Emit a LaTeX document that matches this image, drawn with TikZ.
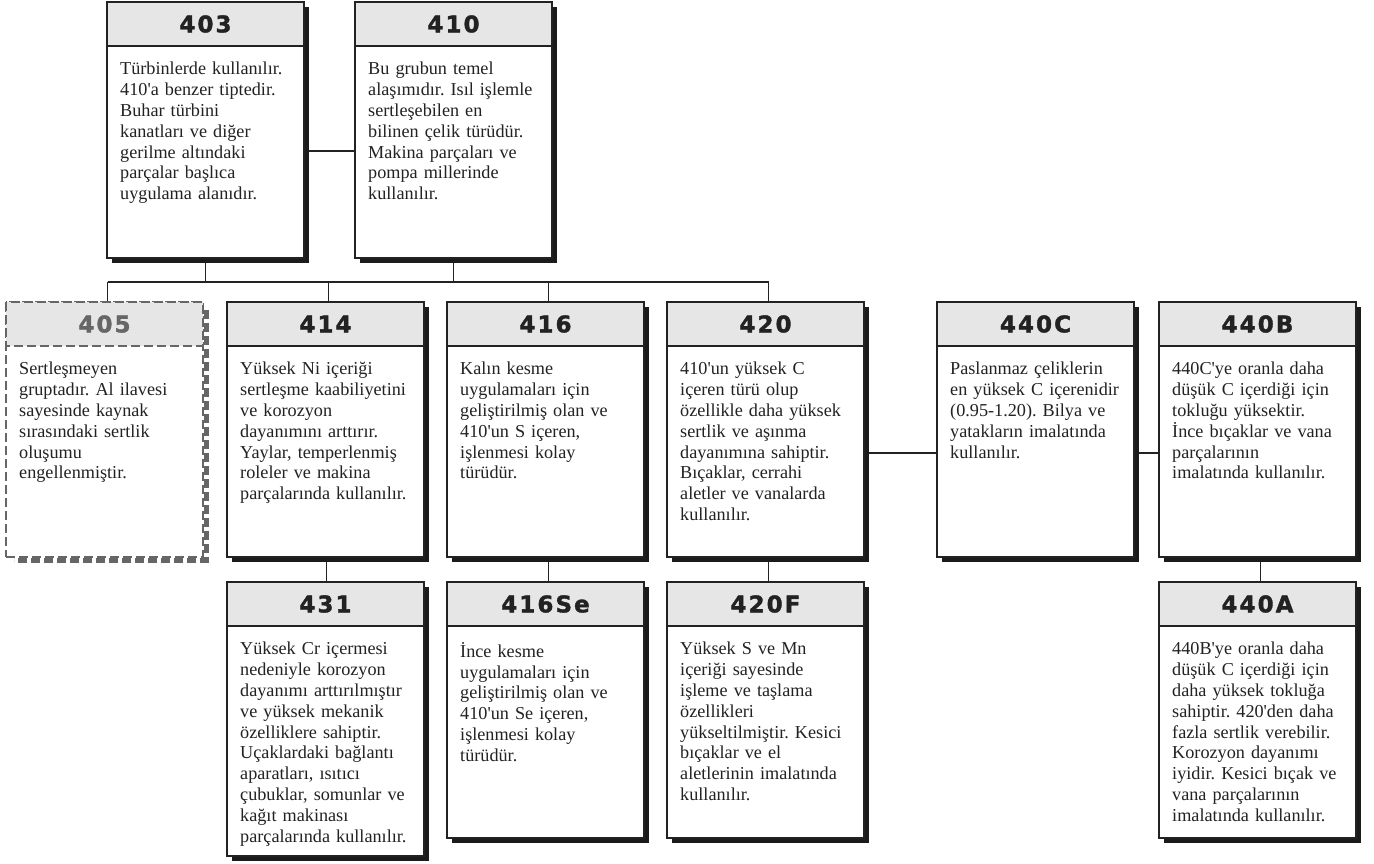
\documentclass[tikz,border=0pt]{standalone}
\usepackage{fontspec}
\setmainfont{Liberation Serif}
\newfontfamily\hdrfont[LetterSpace=9,BoldFeatures={FakeBold=1.6}]{DejaVu Sans}
\usetikzlibrary{calc}
\pgfdeclarelayer{bg}
\pgfsetlayers{bg,main}
\definecolor{ink}{HTML}{222222}
\definecolor{hdrgray}{HTML}{E6E6E6}
\definecolor{dimgray}{HTML}{666666}
\definecolor{shadowc}{HTML}{1C1A1A}
\newcommand\ap{\textquotesingle}
\frenchspacing
\tikzset{
  card/.style={draw=ink, fill=white, line width=1.8pt, inner sep=0pt, outer sep=0pt,
    minimum width=197pt, anchor=north west},
  hdrline/.style={draw=ink, line width=1.8pt, fill=hdrgray},
  hdr/.style={font=\hdrfont\bfseries\fontsize{23}{26}\selectfont, text=ink, inner sep=0pt},
  body/.style={font=\frenchspacing\fontsize{18.2}{20.8}\selectfont, text=ink, align=left,
    text width=180pt, inner sep=0pt, anchor=north west},
  conn/.style={draw=ink, line width=1.2pt},
}
% #1 name, #2 x, #3 y, #4 height, #5 title, #6 body
\newcommand\steelcard[6]{%
  \fill[shadowc] (#2+5,#3+5) rectangle (#2+202,#3+#4+5);
  \node[card, minimum height=#4pt] (#1) at (#2,#3) {};
  \draw[hdrline] (#1.north west) rectangle ([yshift=-44pt]#1.north east);
  \node[hdr] (#1-t) at ([yshift=-22pt]#1.north) {#5};
  \node[body] (#1-b) at ([xshift=13pt,yshift=-60pt]#1.north west) {#6};
}
\begin{document}
\begin{tikzpicture}[x=1pt,y=-1pt]
\useasboundingbox (0,0) rectangle (1374,863);
\coordinate (bus) at (0,282);

\steelcard{n403}{107}{2}{256}{403}{Türbinlerde kullanılır.\\410\ap a benzer tiptedir.\\Buhar türbini\\kanatları ve diğer\\gerilme altındaki\\parçalar başlıca\\uygulama alanıdır.}
\steelcard{n410}{355}{2}{256}{410}{Bu grubun temel\\alaşımıdır. Isıl işlemle\\sertleşebilen en\\bilinen çelik türüdür.\\Makina parçaları ve\\pompa millerinde\\kullanılır.}

% 405 dashed card
\draw[dimgray, line width=5pt, dash pattern=on 9pt off 4pt] (6+200,302+8) -- (6+200,302+258) -- (6+8,302+258);
\node[card, draw=dimgray, dash pattern=on 9pt off 4pt, minimum height=255pt] (n405) at (6,302) {};
\draw[hdrline, draw=dimgray, dash pattern=on 9pt off 4pt] (n405.north west) rectangle ([yshift=-44pt]n405.north east);
\node[hdr, text=dimgray] (n405-t) at ([yshift=-22pt]n405.north) {405};
\node[body] (n405-b) at ([xshift=13pt,yshift=-60pt]n405.north west) {Sertleşmeyen\\gruptadır. Al ilavesi\\sayesinde kaynak\\sırasındaki sertlik\\oluşumu\\engellenmiştir.};

\steelcard{n414}{227}{302}{255}{414}{Yüksek Ni içeriği\\sertleşme kaabiliyetini\\ve korozyon\\dayanımını arttırır.\\Yaylar, temperlenmiş\\roleler ve makina\\parçalarında kullanılır.}
\steelcard{n416}{447}{302}{255}{416}{Kalın kesme\\uygulamaları için\\geliştirilmiş olan ve\\410\ap un S içeren,\\işlenmesi kolay\\türüdür.}
\steelcard{n420}{667}{302}{255}{420}{410\ap un yüksek C\\içeren türü olup\\özellikle daha yüksek\\sertlik ve aşınma\\dayanımına sahiptir.\\Bıçaklar, cerrahi\\aletler ve vanalarda\\kullanılır.}
\steelcard{n440C}{937}{302}{255}{440C}{Paslanmaz çeliklerin\\en yüksek C içerenidir\\(0.95-1.20). Bilya ve\\yatakların imalatında\\kullanılır.}
\steelcard{n440B}{1159}{302}{255}{440B}{440C\ap ye oranla daha\\düşük C içerdiği için\\tokluğu yüksektir.\\İnce bıçaklar ve vana\\parçalarının\\imalatında kullanılır.}

\steelcard{n431}{227}{582}{274}{431}{Yüksek Cr içermesi\\nedeniyle korozyon\\dayanımı arttırılmıştır\\ve yüksek mekanik\\özelliklere sahiptir.\\Uçaklardaki bağlantı\\aparatları, ısıtıcı\\çubuklar, somunlar ve\\kağıt makinası\\parçalarında kullanılır.}
\steelcard{n416Se}{447}{582}{256}{416Se}{İnce kesme\\uygulamaları için\\geliştirilmiş olan ve\\410\ap un Se içeren,\\işlenmesi kolay\\türüdür.}
\steelcard{n420F}{667}{582}{256}{420F}{Yüksek S ve Mn\\içeriği sayesinde\\işleme ve taşlama\\özellikleri\\yükseltilmiştir. Kesici\\bıçaklar ve el\\aletlerinin imalatında\\kullanılır.}
\steelcard{n440A}{1159}{582}{256}{440A}{440B\ap ye oranla daha\\düşük C içerdiği için\\daha yüksek tokluğa\\sahiptir. 420\ap den daha\\fazla sertlik verebilir.\\Korozyon dayanımı\\iyidir. Kesici bıçak ve\\vana parçalarının\\imalatında kullanılır.}

\begin{pgfonlayer}{bg}
\draw[conn] ([yshift=-21pt]n403.east) -- ([yshift=-21pt]n410.west);
\draw[conn] (n403.south) -- (n403.south |- bus);
\draw[conn] (n410.south) -- (n410.south |- bus);
\draw[conn] ([xshift=3pt]n405.north |- bus) -- ([xshift=3pt]n420.north |- bus);
\foreach \n in {n405,n414,n416,n420}{
  \draw[conn] ([xshift=3pt]\n.north) -- ([xshift=3pt]\n.north |- bus);
}
\draw[conn] ([xshift=1pt]n414.south) -- ([xshift=1pt]n431.north);
\draw[conn] ([xshift=3pt]n416.south) -- ([xshift=3pt]n416Se.north);
\draw[conn] ([xshift=3pt]n420.south) -- ([xshift=3pt]n420F.north);
\draw[conn] ([xshift=3pt]n440B.south) -- ([xshift=3pt]n440A.north);
\draw[conn] ([yshift=-23.5pt]n420.east) -- ([yshift=-23.5pt]n440C.west);
\draw[conn] ([yshift=-23.5pt]n440C.east) -- ([yshift=-23.5pt]n440B.west);
\end{pgfonlayer}
\end{tikzpicture}
\end{document}
